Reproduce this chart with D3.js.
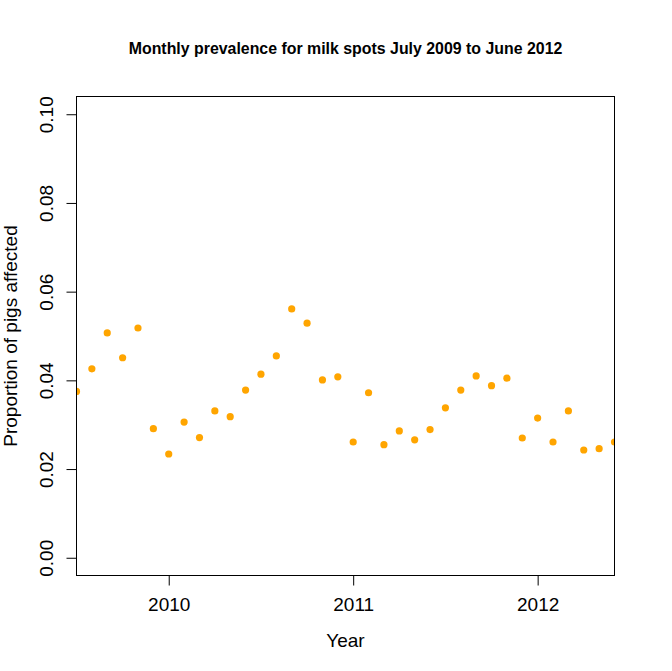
<!DOCTYPE html>
<html><head><meta charset="utf-8">
<script src="https://cdn.jsdelivr.net/npm/d3@7"></script>
<style>body{margin:0;background:#fff}svg{display:block}text{font-family:"Liberation Sans",Arial,sans-serif;fill:#000}</style>
</head><body><svg id="c" width="672" height="671"></svg>
<script>
const startYear = 2009.5; // July 2009
const prevalence = [0.0375,0.0426,0.0507,0.0451,0.0518,0.0291,0.0234,0.0306,0.0271,0.0331,0.0318,0.0378,
0.0414,0.0455,0.0561,0.0529,0.0401,0.0408,0.0261,0.0372,0.0255,0.0286,0.0266,0.0289,
0.0338,0.0378,0.0410,0.0388,0.0405,0.0270,0.0315,0.0261,0.0331,0.0243,0.0246,0.0261];
const months = prevalence.map((v,i)=>startYear + i/12);
const xTicks = [2010, 2011, 2012];
const yTicks = [0.00, 0.02, 0.04, 0.06, 0.08, 0.10];
const title = "Monthly prevalence for milk spots July 2009 to June 2012";
const xLabel = "Year", yLabel = "Proportion of pigs affected";

const L=76.5, R=614.5, T=96.5, B=575.5;
const svg = d3.select("#c");
const x = d3.scaleLinear().domain(d3.extent(months)).range([L,R]);
const y = d3.scaleLinear().domain([-0.004,0.104]).range([B,T]);

svg.append("defs").append("clipPath").attr("id","clip").append("rect")
  .attr("x",L).attr("y",T).attr("width",R-L).attr("height",B-T);

svg.append("g").attr("clip-path","url(#clip)").selectAll("circle").data(prevalence).join("circle")
  .attr("cx",(d,i)=>x(months[i])).attr("cy",d=>y(d)).attr("r",3.6).attr("fill","#FFA500");

svg.append("rect").attr("x",L).attr("y",T).attr("width",R-L).attr("height",B-T)
  .attr("fill","none").attr("stroke","#000").attr("stroke-width",1);

const xa = svg.append("g").attr("transform",`translate(0,${B})`)
  .call(d3.axisBottom(x).tickValues(xTicks).tickFormat(d3.format("d")).tickSize(10).tickPadding(12));
xa.select(".domain").remove();
xa.selectAll("text").style("font-size","19px");

const ya = svg.append("g").attr("transform",`translate(${L},0)`)
  .call(d3.axisLeft(y).tickValues(yTicks).tickFormat(d3.format(".2f")).tickSize(10));
ya.select(".domain").remove();
ya.selectAll(".tick text").attr("transform","rotate(-90) translate(0,-30)").attr("x",0).attr("y",0)
  .attr("dy",null).attr("text-anchor","middle").attr("dominant-baseline","central").style("font-size","19px");

svg.append("text").attr("x",(L+R)/2).attr("y",54).attr("text-anchor","middle")
  .style("font-size","15.9px").style("font-weight","bold").text(title);
svg.append("text").attr("x",(L+R)/2).attr("y",647).attr("text-anchor","middle")
  .style("font-size","19px").text(xLabel);
svg.append("text").attr("transform",`translate(17,${(T+B)/2}) rotate(-90)`).attr("text-anchor","middle")
  .style("font-size","19px").text(yLabel);
</script></body></html>
